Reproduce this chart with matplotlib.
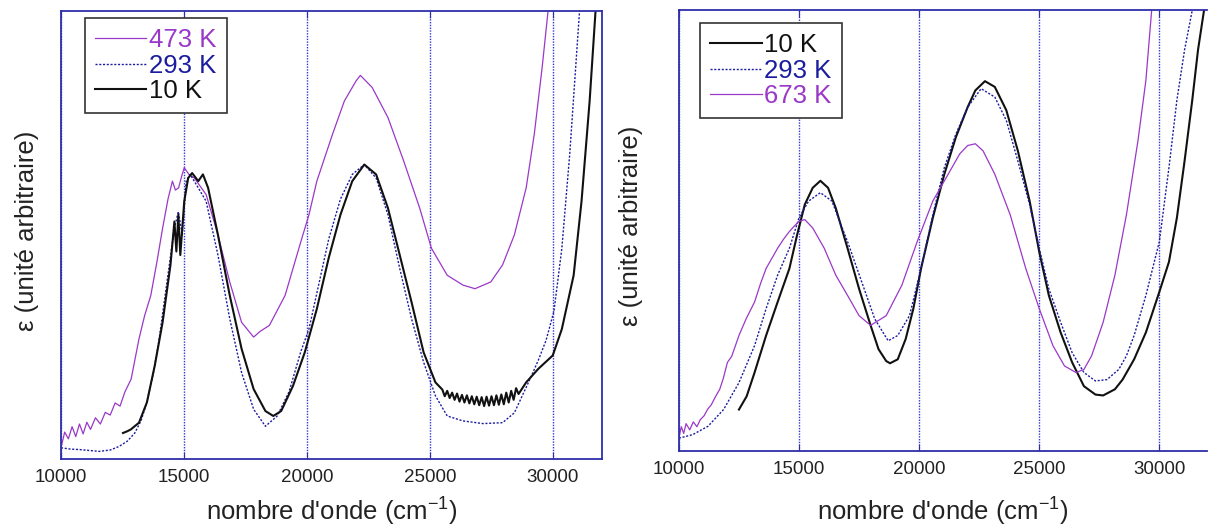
import matplotlib.pyplot as plt

plt.rcParams['font.family'] = ['Liberation Sans', 'DejaVu Sans']
plt.rcParams['mathtext.default'] = 'regular'

FRAME = '#2e2eaa'
GRID = '#3535d0'
PURPLE = '#9a38c8'
BLUE = '#1c1ca0'
BLACK = '#111111'

# --- panneau gauche : 473 K / 293 K / 10 K ---
x473 = [10000, 10150, 10300, 10450, 10600, 10750, 10900, 11050, 11200, 11400, 11600, 11800, 12000, 12200, 12400,
        12600, 12850, 13170, 13400, 13650, 13900, 14130, 14350, 14530, 14650, 14780, 14900, 15010, 15200, 15420,
        15900, 16380, 16860, 17340, 17830, 18100, 18470, 19110, 19750, 20080, 20400, 21040, 21520, 22000, 22170,
        22650, 23290, 23930, 24580, 25060, 25700, 26340, 26830, 27470, 27950, 28430, 28910, 29240, 29560, 29800]
y473 = [0.025, 0.060, 0.045, 0.072, 0.050, 0.078, 0.056, 0.082, 0.066, 0.092, 0.078, 0.104, 0.098, 0.125, 0.118,
        0.150, 0.178, 0.268, 0.320, 0.365, 0.440, 0.515, 0.580, 0.620, 0.600, 0.605, 0.630, 0.650, 0.635, 0.627,
        0.590, 0.500, 0.395, 0.305, 0.272, 0.285, 0.298, 0.365, 0.485, 0.545, 0.620, 0.725, 0.799, 0.844, 0.856,
        0.829, 0.762, 0.665, 0.560, 0.470, 0.410, 0.388, 0.380, 0.395, 0.433, 0.500, 0.605, 0.725, 0.874, 1.0]

x293a = [10000, 10400, 10750, 11150, 11560, 12000, 12360, 12700, 13000, 13250, 13490, 13750, 13970, 14290, 14610,
         14770, 14930, 15090, 15250, 15580, 15900, 16380, 16860, 17340, 17830, 18310, 18790, 19270, 19750, 20080,
         20400, 20880, 21360, 21840, 22330, 22810, 23290, 23770, 24250, 24740, 25220, 25700, 26340, 27150, 27950,
         28430, 28750, 29080, 29400, 29720, 30040, 30360, 30680, 31080]
y293a = [0.025, 0.022, 0.021, 0.019, 0.017, 0.020, 0.028, 0.040, 0.058, 0.085, 0.126, 0.190, 0.260, 0.388, 0.515,
         0.552, 0.500, 0.620, 0.635, 0.605, 0.575, 0.455, 0.313, 0.193, 0.111, 0.073, 0.096, 0.150, 0.240, 0.290,
         0.370, 0.490, 0.580, 0.635, 0.657, 0.627, 0.545, 0.425, 0.313, 0.216, 0.141, 0.096, 0.085, 0.079, 0.081,
         0.103, 0.141, 0.180, 0.220, 0.265, 0.330, 0.470, 0.680, 1.0]

x10a = [12520, 12700, 12840, 13170, 13490, 13810, 14130, 14450, 14610, 14690, 14770, 14850, 15010, 15170, 15330,
        15580, 15770, 15980, 16380, 16860, 17340, 17830, 18310, 18630, 18950, 19430, 19910, 20400, 20880, 21360,
        21840, 22330, 22810, 23290, 23770, 24250, 24740, 25220,
        25500, 25600, 25700, 25800, 25900, 26000, 26100, 26200, 26300, 26400, 26500, 26600, 26700, 26800, 26900,
        27000, 27100, 27200, 27300, 27400, 27500, 27600, 27700, 27800, 27900, 28000, 28100, 28200, 28300, 28400,
        28500, 28600, 28910, 29400, 29990, 30360, 30840, 31160, 31490, 31730]
y10a = [0.058, 0.062, 0.066, 0.081, 0.126, 0.208, 0.305, 0.433, 0.530, 0.463, 0.545, 0.455, 0.575, 0.627, 0.638,
        0.620, 0.635, 0.605, 0.500, 0.365, 0.246, 0.156, 0.107, 0.096, 0.107, 0.163, 0.238, 0.335, 0.448, 0.545,
        0.620, 0.657, 0.635, 0.560, 0.455, 0.350, 0.238, 0.171,
        0.155, 0.140, 0.152, 0.136, 0.148, 0.132, 0.146, 0.128, 0.143, 0.126, 0.142, 0.124, 0.140, 0.122, 0.139,
        0.120, 0.138, 0.118, 0.139, 0.119, 0.140, 0.120, 0.142, 0.121, 0.144, 0.122, 0.148, 0.126, 0.152, 0.132,
        0.158, 0.145, 0.171, 0.201, 0.231, 0.290, 0.410, 0.575, 0.799, 1.0]

# --- panneau droit : 10 K / 293 K / 673 K ---
x10b = [12500, 12820, 13150, 13630, 14110, 14600, 14920, 15240, 15570, 15890, 16210, 16530, 17020, 17500, 17980,
        18310, 18630, 18790, 19110, 19440, 19760, 20080, 20570, 21050, 21530, 22020, 22340, 22740, 23150, 23630,
        24110, 24600, 25000, 25400, 25890, 26370, 26860, 27340, 27660, 28150, 28470, 28950, 29440, 30000, 30400,
        30730, 31050, 31370, 31610, 31860]
y10b = [0.094, 0.124, 0.178, 0.262, 0.338, 0.414, 0.490, 0.559, 0.597, 0.613, 0.597, 0.551, 0.460, 0.368, 0.285,
        0.231, 0.204, 0.199, 0.208, 0.254, 0.323, 0.414, 0.529, 0.628, 0.712, 0.780, 0.818, 0.839, 0.826, 0.773,
        0.681, 0.567, 0.452, 0.353, 0.269, 0.201, 0.147, 0.128, 0.126, 0.140, 0.162, 0.208, 0.269, 0.361, 0.429,
        0.529, 0.658, 0.796, 0.910, 1.0]

x293b = [10000, 10570, 11210, 11860, 12500, 13150, 13630, 14110, 14600, 15000, 15400, 15890, 16370, 17020, 17660,
         18150, 18710, 19110, 19600, 20080, 20570, 21050, 21530, 22020, 22580, 23150, 23630, 24110, 24600, 25000,
         25400, 25890, 26370, 26860, 27340, 27820, 28310, 28630, 28950, 29440, 30000, 30400, 30730, 31050, 31370]
y293b = [0.029, 0.037, 0.056, 0.094, 0.155, 0.239, 0.323, 0.399, 0.460, 0.529, 0.567, 0.586, 0.567, 0.475, 0.376,
         0.300, 0.250, 0.262, 0.307, 0.414, 0.536, 0.643, 0.719, 0.780, 0.822, 0.803, 0.750, 0.658, 0.559, 0.460,
         0.368, 0.292, 0.223, 0.178, 0.159, 0.162, 0.185, 0.216, 0.262, 0.353, 0.475, 0.643, 0.796, 0.910, 1.0]

x673 = [10000, 10100, 10200, 10300, 10450, 10600, 10750, 10890, 11050, 11200, 11350, 11530, 11700, 11850, 12020,
        12200, 12500, 12800, 13150, 13400, 13630, 13900, 14110, 14350, 14600, 14800, 15000, 15240, 15570, 16050,
        16530, 17020, 17500, 17980, 18630, 19280, 19920, 20570, 21210, 21690, 22020, 22340, 22660, 23150, 23790,
        24440, 25000, 25570, 26050, 26530, 26860, 27180, 27660, 28150, 28630, 29110, 29440, 29680]
y673 = [0.030, 0.055, 0.040, 0.062, 0.048, 0.066, 0.055, 0.071, 0.080, 0.095, 0.105, 0.124, 0.140, 0.165, 0.201,
        0.215, 0.262, 0.300, 0.338, 0.380, 0.414, 0.440, 0.460, 0.480, 0.498, 0.510, 0.521, 0.525, 0.506, 0.460,
        0.399, 0.353, 0.307, 0.285, 0.307, 0.376, 0.475, 0.567, 0.628, 0.674, 0.693, 0.697, 0.681, 0.628, 0.536,
        0.414, 0.323, 0.239, 0.193, 0.178, 0.185, 0.216, 0.292, 0.399, 0.536, 0.704, 0.841, 1.0]

xticks = [10000, 15000, 20000, 25000, 30000]


def style(ax):
    ax.set_xlim(10000, 32000)
    ax.set_ylim(0, 1)
    ax.set_yticks([])
    ax.set_xticks(xticks)
    ax.set_xticklabels([str(t) for t in xticks], fontsize=13.5, color='#222222')
    ax.tick_params(axis='x', direction='in', top=True, color=FRAME, length=5, pad=7)
    ax.grid(axis='x', color=GRID, linestyle=(0, (1, 1)), linewidth=1.0)
    for s in ax.spines.values():
        s.set_color(FRAME)
        s.set_linewidth(1.3)
    ax.set_xlabel("nombre d'onde (cm$^{-1}$)", fontsize=18.5, color='#222222')
    ax.set_ylabel('ε (unité arbitraire)', fontsize=18.5, color='#222222')


def legend(ax, handles, labels, colors, anchor):
    leg = ax.legend(handles, labels, loc='upper left', bbox_to_anchor=anchor,
                    fontsize=18.5, labelcolor=colors, fancybox=False, edgecolor='#333333',
                    framealpha=1, handlelength=2.0, handletextpad=0.1, labelspacing=0.05,
                    borderpad=0.4, borderaxespad=0)
    leg.get_frame().set_linewidth(1.2)


fig = plt.figure(figsize=(12.08, 5.26), dpi=100)

ax1 = fig.add_axes([0.0505, 0.1274, 0.448, 0.852])
l1, = ax1.plot(x473, y473, color=PURPLE, lw=0.9)
l2, = ax1.plot(x293a, y293a, color=BLUE, lw=1.0, ls=(0, (1.5, 1.2)))
l3, = ax1.plot(x10a, y10a, color=BLACK, lw=1.5)
style(ax1)
ax1.xaxis.set_label_coords(0.5, -0.083)
ax1.yaxis.set_label_coords(-0.041, 0.51)
legend(ax1, [l1, l2, l3], ['473 K', '293 K', '10 K'], [PURPLE, BLUE, BLACK], (0.044, 0.984))

ax2 = fig.add_axes([0.562, 0.1426, 0.4375, 0.838])
m1, = ax2.plot(x10b, y10b, color=BLACK, lw=1.5)
m2, = ax2.plot(x293b, y293b, color=BLUE, lw=1.0, ls=(0, (1.5, 1.2)))
m3, = ax2.plot(x673, y673, color=PURPLE, lw=0.9)
style(ax2)
ax2.spines['right'].set_visible(False)
ax2.xaxis.set_label_coords(0.5, -0.102)
ax2.yaxis.set_label_coords(-0.068, 0.51)
legend(ax2, [m1, m2, m3], ['10 K', '293 K', '673 K'], [BLACK, BLUE, PURPLE], (0.040, 0.971))

fig.savefig('out.png', dpi=100)
